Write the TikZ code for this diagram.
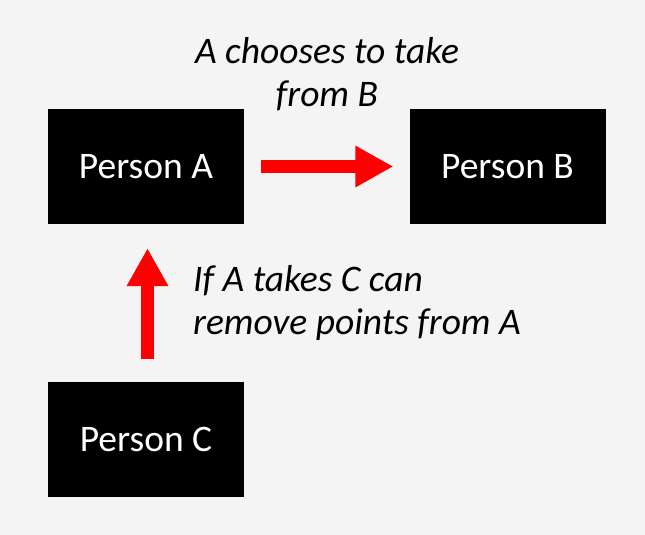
\documentclass[tikz,border=0pt]{standalone}
\usepackage{fontspec}
\setmainfont{Carlito}
\usetikzlibrary{arrows.meta,calc}
\definecolor{bg}{HTML}{F4F4F4}
\definecolor{arrowred}{HTML}{FF0000}
\begin{document}
\begin{tikzpicture}[x=1pt,y=-1pt,
  personbox/.style={fill=black,text=white,minimum width=196pt,minimum height=115pt,inner sep=0pt,font=\fontsize{37.5}{43}\selectfont},
  note/.style={font=\fontsize{37.5}{43}\selectfont\itshape,inner sep=0pt},
  fatarrow/.style={draw=arrowred,line width=13pt,-{Triangle[width=39pt,length=38pt]}}]
\fill[bg] (0,0) rectangle (645,535);
\useasboundingbox (0,0) rectangle (645,535);
\node[personbox] (A) at (146,166.5) {Person A};
\node[personbox] (B) at (507.5,166.5) {Person B};
\node[personbox] (C) at (146,439) {Person C};
\node[note,align=center] (t1) at (327,74) {A chooses to take\\from B};
\node[note,align=left,anchor=west] (t2) at (193,303) {If A takes C can\\remove points from A};
\draw[fatarrow] ($(A.east)+(17,0)$) -- ($(B.west)+(-16,0)$);
\draw[fatarrow] ($(C.north)+(1.5,-22)$) -- ($(A.south)+(1.5,24)$);
\end{tikzpicture}
\end{document}
